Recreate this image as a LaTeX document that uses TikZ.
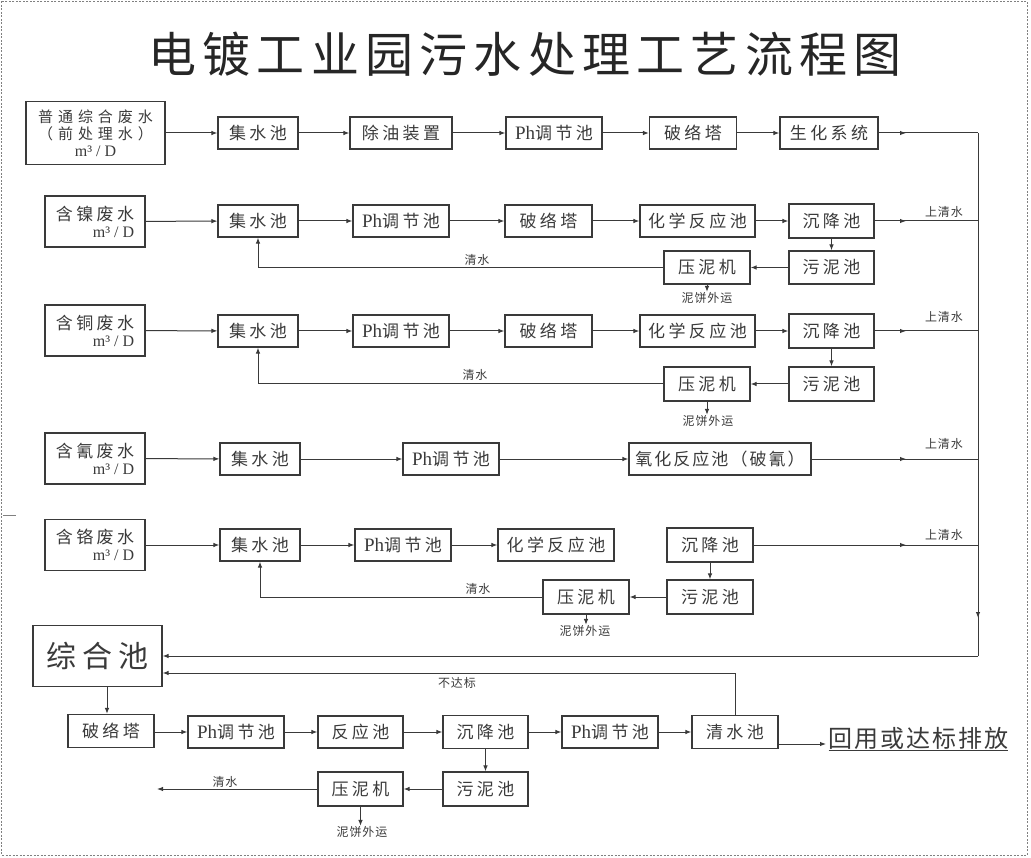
\documentclass[tikz,border=0pt]{standalone}
\usepackage{fontspec}
\setmainfont{Liberation Serif}
\newfontfamily\cjk{Noto Sans CJK SC}[LetterSpace=20]
\newfontfamily\cjks{Noto Sans CJK SC}[LetterSpace=12]
\newfontfamily\cjkw{Noto Sans CJK SC}[LetterSpace=33]
\newfontfamily\cjkt{Noto Sans CJK SC}[LetterSpace=13]
\newfontfamily\cjkn{Noto Sans CJK SC}[LetterSpace=8]
\usetikzlibrary{arrows.meta,decorations.markings}
\definecolor{lc}{HTML}{3A3A3A}
\newcommand{\phx}{{\rmfamily\fontsize{19}{17}\selectfont Ph}}
\newcommand{\mD}{{\rmfamily\fontsize{16}{17}\selectfont m³ / D}}
\tikzset{
  box/.style={draw=lc, line width=1.1pt, minimum height=32pt, inner sep=0pt,
    font=\cjk\fontsize{17}{17}\selectfont},
  srcbox/.style={box, minimum width=100pt, minimum height=51pt, align=right},
  arr/.style={draw=lc, line width=1pt, -{Latex[length=6pt,width=4.5pt]}},
  ln/.style={draw=lc, line width=1pt},
  midarr/.style={ln, postaction={decorate, decoration={markings,
    mark=at position #1 with {\arrow{Latex[length=6pt,width=4.5pt]}}}}},
  midarr/.default=-72pt,
  lab/.style={font=\cjkn\fontsize{12}{14}\selectfont, inner sep=0pt},
}
\begin{document}
\begin{tikzpicture}[x=1pt,y=-1pt,color=lc,line width=1pt]
\useasboundingbox (0,0) rectangle (1031,858);
\draw[black!50, line width=0.8pt, dash pattern=on 2pt off 1.5pt] (1.5,1.5) rectangle (1027,855);
\draw[black!50, line width=0.8pt] (3,515) -- (16,515);

% title
\node[font=\cjkt\fontsize{48}{50}\selectfont, text=black!85] (title) at (525,54) {电镀工业园污水处理工艺流程图};

% bus coordinates
\coordinate (b1) at (978,133);
\coordinate (b2) at (978,221);
\coordinate (b3) at (978,331);
\coordinate (b4) at (978,459);
\coordinate (b5) at (978,545);
\coordinate (b6) at (978,656);

% ---------- row 1
\node[box, minimum width=139pt, minimum height=63pt, align=center, font=\cjkw\fontsize{15}{17}\selectfont] (s1) at (95.5,133) {普通综合废水\\（前处理水）\\\mD};
\node[box, minimum width=80pt] (j1) at (258,133) {集水池};
\node[box, minimum width=102pt] (c1) at (401,133) {除油装置};
\node[box, minimum width=96pt] (p1) at (554,133) {\phx 调节池};
\node[box, minimum width=87pt] (l1) at (693,133) {破络塔};
\node[box, minimum width=98pt] (h1) at (829,133) {生化系统};
\draw[arr] (s1) -- (j1);
\draw[arr] (j1) -- (c1);
\draw[arr] (c1) -- (p1);
\draw[arr] (p1) -- (l1);
\draw[arr] (l1) -- (h1);
\draw[midarr] (h1) -- (b1);

% ---------- row 2 (nickel)
\node[srcbox] (s2) at (95,221.5) {含镍废水\\\mD};
\node[box, minimum width=80pt] (j2) at (258,221) {集水池};
\node[box, minimum width=96pt] (p2) at (401,221) {\phx 调节池};
\node[box, minimum width=87pt] (l2) at (548.5,221) {破络塔};
\node[box, minimum width=115pt] (r2) at (697.5,221) {化学反应池};
\node[box, minimum width=85pt, minimum height=34pt] (d2) at (831.5,221) {沉降池};
\node[box, minimum width=85pt, minimum height=33pt] (w2) at (831.5,267.5) {污泥池};
\node[box, minimum width=86pt, minimum height=33pt] (y2) at (707,267.5) {压泥机};
\node[lab] (q2) at (477,260) {清水};
\node[lab] (n2) at (707,298) {泥饼外运};
\node[lab] (u2) at (944,212) {上清水};
\draw[arr] (s2) -- (j2);
\draw[arr] (j2) -- (p2);
\draw[arr] (p2) -- (l2);
\draw[arr] (l2) -- (r2);
\draw[arr] (r2) -- (d2);
\draw[midarr] (d2) -- (b2);
\draw[arr] (d2) -- (w2);
\draw[arr] (w2) -- (y2);
\draw[arr] (y2) -| (j2);
\draw[arr] (y2.south) -- (y2.south |- n2.north);

% ---------- row 3 (copper)
\node[srcbox] (s3) at (95,330.5) {含铜废水\\\mD};
\node[box, minimum width=80pt] (j3) at (258,331) {集水池};
\node[box, minimum width=96pt] (p3) at (401,331) {\phx 调节池};
\node[box, minimum width=87pt] (l3) at (548.5,331) {破络塔};
\node[box, minimum width=115pt] (r3) at (697.5,331) {化学反应池};
\node[box, minimum width=85pt, minimum height=34pt] (d3) at (831.5,331) {沉降池};
\node[box, minimum width=85pt, minimum height=34pt] (w3) at (831.5,384) {污泥池};
\node[box, minimum width=86pt, minimum height=34pt] (y3) at (707,384) {压泥机};
\node[lab] (q3) at (475,375) {清水};
\node[lab] (n3) at (708,421) {泥饼外运};
\node[lab] (u3) at (944,317) {上清水};
\draw[arr] (s3) -- (j3);
\draw[arr] (j3) -- (p3);
\draw[arr] (p3) -- (l3);
\draw[arr] (l3) -- (r3);
\draw[arr] (r3) -- (d3);
\draw[midarr] (d3) -- (b3);
\draw[arr] (d3) -- (w3);
\draw[arr] (w3) -- (y3);
\draw[arr] (y3) -| (j3);
\draw[arr] (y3.south) -- (y3.south |- n3.north);

% ---------- row 4 (cyanide)
\node[srcbox] (s4) at (95,458.5) {含氰废水\\\mD};
\node[box, minimum width=80pt] (j4) at (260,459) {集水池};
\node[box, minimum width=96pt] (p4) at (451,459) {\phx 调节池};
\node[box, minimum width=182pt, font=\cjks\fontsize{17}{17}\selectfont] (o4) at (720,459) {氧化反应池（破氰）};
\node[lab] (u4) at (944,444) {上清水};
\draw[arr] (s4) -- (j4);
\draw[arr] (j4) -- (p4);
\draw[arr] (p4) -- (o4);
\draw[midarr] (o4) -- (b4);

% ---------- row 5 (chromium)
\node[srcbox] (s5) at (95,545) {含铬废水\\\mD};
\node[box, minimum width=80pt] (j5) at (260,545) {集水池};
\node[box, minimum width=96pt] (p5) at (403,545) {\phx 调节池};
\node[box, minimum width=116pt] (r5) at (556,545) {化学反应池};
\node[box, minimum width=86pt, minimum height=34pt] (d5) at (710,545) {沉降池};
\node[box, minimum width=86pt, minimum height=34pt] (w5) at (710,597) {污泥池};
\node[box, minimum width=86pt, minimum height=34pt] (y5) at (586,597) {压泥机};
\node[lab] (q5) at (478,589) {清水};
\node[lab] (n5) at (585,631) {泥饼外运};
\node[lab] (u5) at (944,535) {上清水};
\draw[arr] (s5) -- (j5);
\draw[arr] (j5) -- (p5);
\draw[arr] (p5) -- (r5);
\draw[midarr] (d5) -- (b5);
\draw[arr] (d5) -- (w5);
\draw[arr] (w5) -- (y5);
\draw[arr] (y5) -| (j5);
\draw[arr] (y5.south) -- (y5.south |- n5.north);

% ---------- bus
\draw[ln] (b1) -- (b5);
\draw[midarr=-38pt] (b5) -- (b6);

% ---------- row 6
\node[box, minimum width=129pt, minimum height=61pt, font=\cjk\fontsize{30}{30}\selectfont] (zh) at (97.5,656) {综合池};
\node[box, minimum width=86pt, minimum height=33pt] (l6) at (111,731) {破络塔};
\node[box, minimum width=96pt] (p6) at (236,732) {\phx 调节池};
\node[box, minimum width=85pt] (f6) at (360.5,732) {反应池};
\node[box, minimum width=85pt, minimum height=33pt] (d6) at (485.5,732) {沉降池};
\node[box, minimum width=96pt] (pb6) at (610,732) {\phx 调节池};
\node[box, minimum width=86pt, minimum height=33pt] (qs) at (735,732) {清水池};
\node[box, minimum width=85pt, minimum height=34pt] (w6) at (485.5,789) {污泥池};
\node[box, minimum width=85pt, minimum height=34pt] (y6) at (360.5,789) {压泥机};
\node[lab] (q6) at (225,782) {清水};
\node[lab] (n6) at (362,832) {泥饼外运};
\node[lab] (nb) at (457,683) {不达标};
\node[anchor=west, inner sep=2pt, font=\cjkn\fontsize{24}{26}\selectfont] (hy) at (826,739) {\underline{回用或达标排放}};
\coordinate (nd) at (735,673);
\coordinate (qw) at (157,789);
\draw[arr] (b6) -- (zh);
\draw[arr] (qs.north) |- (zh.east |- nd);
\draw[arr] ([xshift=-4pt]l6.north |- zh.south) -- ([xshift=-4pt]l6.north);
\draw[arr] (l6.east |- p6) -- (p6);
\draw[arr] (p6) -- (f6);
\draw[arr] (f6) -- (d6);
\draw[arr] (d6) -- (pb6);
\draw[arr] (pb6) -- (qs);
\draw[arr] ([yshift=-12pt]qs.east) -- ([yshift=-12pt]qs.east -| hy.west);
\draw[arr] (d6) -- (w6);
\draw[arr] (w6) -- (y6);
\draw[arr] (y6) -- (qw);
\draw[arr] (y6.south) -- (y6.south |- n6.north);
\end{tikzpicture}
\end{document}
